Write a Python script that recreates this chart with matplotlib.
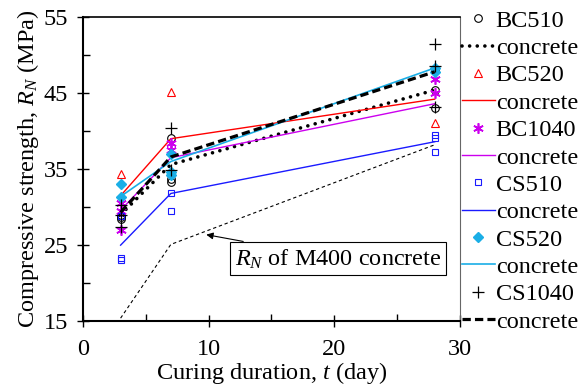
import numpy as np
import matplotlib
matplotlib.use("Agg")
import matplotlib.pyplot as plt
from matplotlib.ticker import MultipleLocator, FixedLocator

plt.rcParams['font.family'] = 'Liberation Serif'
plt.rcParams['mathtext.fontset'] = 'custom'
plt.rcParams['mathtext.rm'] = 'Liberation Serif'
plt.rcParams['mathtext.it'] = 'Liberation Serif:italic'

#%% data: individual specimens (age, strength) and mean lines
ages = [3, 7, 28]

bc510_t = [3, 3, 3, 7, 7, 7, 28, 28, 28]
bc510_r = [28.4, 29.0, 28.7, 39.1, 33.7, 33.3, 45.4, 43.0, 48.2]
bc510_mean = [29.0, 35.6, 45.4]

bc520_t = [3, 7, 28]
bc520_r = [34.3, 45.1, 41.0]
bc520_mean = [31.5, 39.0, 44.2]

bc1040_t = [3, 3, 3, 7, 7, 28, 28]
bc1040_r = [30.5, 29.5, 27.0, 38.4, 37.5, 46.8, 45.0]
bc1040_mean = [29.6, 36.5, 43.6]

cs510_t = [3, 3, 3, 7, 7, 28, 28, 28]
cs510_r = [28.9, 23.3, 23.0, 31.8, 29.5, 39.5, 39.1, 37.3]
cs510_mean = [25.0, 31.8, 38.6]

cs520_t = [3, 3, 7, 7, 7, 28, 28]
cs520_r = [33.0, 31.3, 37.0, 34.6, 34.2, 48.3, 47.8]
cs520_mean = [31.4, 36.0, 48.3]

cs1040_t = [3, 3, 3, 7, 7, 28, 28, 28]
cs1040_r = [30.3, 27.4, 29.0, 40.4, 34.9, 51.5, 48.6, 43.2]
cs1040_mean = [29.3, 36.6, 47.8]

m400_r = [15.4, 25.1, 38.2]

y_major = [15, 25, 35, 45, 55]
y_minor = [20, 30, 40, 50]

#%% plot
fs = 17.5
fig = plt.figure(figsize=(5.88, 3.87), dpi=100)
ax = fig.add_axes([0.141, 0.170, 0.641, 0.786])

ax.plot(ages, m400_r, color='black', lw=0.8, ls=(0, (3, 2.5)))

ax.plot(bc510_t, bc510_r, ls='none', marker='o', ms=5.5, mfc='none', mec='black', mew=0.8, label='BC510')
ax.plot(ages, bc510_mean, color='black', lw=2.6, ls=(0, (0.01, 2.1)), dash_capstyle='round', label='concrete')
ax.plot(bc520_t, bc520_r, ls='none', marker='^', ms=5.5, mfc='none', mec='red', mew=0.8, label='BC520')
ax.plot(ages, bc520_mean, color='red', lw=1, label='concrete')
ax.plot(bc1040_t, bc1040_r, ls='none', marker=(6, 2, 0), ms=7.5, mec='#cc00ee', mew=1.2, label='BC1040')
ax.plot(ages, bc1040_mean, color='#cc00ee', lw=1, label='concrete')
ax.plot(cs510_t, cs510_r, ls='none', marker='s', ms=5, mfc='none', mec='#1a1aff', mew=0.8, label='CS510')
ax.plot(ages, cs510_mean, color='#1a1aff', lw=1, label='concrete')
ax.plot(cs520_t, cs520_r, ls='none', marker='D', ms=5, mfc='#1aaee6', mec='#1aaee6', label='CS520')
ax.plot(ages, cs520_mean, color='#1aaee6', lw=1.2, label='concrete')
ax.plot(cs1040_t, cs1040_r, ls='none', marker='+', ms=9, mec='black', mew=0.9, label='CS1040')
ax.plot(ages, cs1040_mean, color='black', lw=2.3, ls=(0, (2.6, 1.3)), label='concrete')

ax.annotate('$R_N$ of M400 concrete', xy=(9.6, 26.45), xytext=(20.3, 23.2),
            fontsize=fs, ha='center', va='center',
            bbox=dict(boxstyle='square,pad=0.2', fc='white', ec='black', lw=0.8),
            arrowprops=dict(arrowstyle='-|>', color='black', lw=0.8, mutation_scale=10))

ax.set_xlim(0, 30)
ax.set_ylim(15, 55)
ax.xaxis.set_major_locator(MultipleLocator(10))
ax.xaxis.set_minor_locator(MultipleLocator(5))
ax.yaxis.set_major_locator(FixedLocator(y_major))
ax.yaxis.set_minor_locator(FixedLocator(y_minor))
ax.tick_params(which='major', direction='inout', length=9, width=1, labelsize=fs)
ax.tick_params(which='minor', direction='in', length=5, width=1)
ax.tick_params(axis='x', which='major', pad=8)
ax.tick_params(axis='y', which='major', pad=6)
for s in ['left', 'bottom']:
    ax.spines[s].set_linewidth(1.5)
ax.spines['top'].set_linewidth(1.2)
ax.spines['right'].set_linewidth(0.8)
ax.spines['right'].set_color('#666666')

ax.set_xlabel('Curing duration, $t$ (day)', fontsize=fs, labelpad=0)
ax.set_ylabel('Compressive strength, $R_N$ (MPa)', fontsize=fs, labelpad=2)

ax.legend(loc='upper left', bbox_to_anchor=(1.005, 1.024), frameon=False, fontsize=fs,
          handlelength=1.35, handletextpad=0.05, labelspacing=0.22, borderpad=0,
          borderaxespad=0)

plt.savefig('out.png', dpi=100)
